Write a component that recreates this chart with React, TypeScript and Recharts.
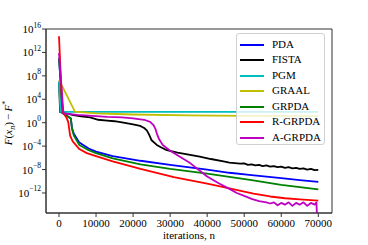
import React from 'react';
import { LineChart, Line, XAxis, YAxis, ReferenceArea, Label } from 'recharts';

// [iteration, log10(F(x_n) - F*)]
const pdaData: [number, number][] = [
  [0, 11], [1000, 1.6], [2500, 1.0], [3200, 0.7], [3500, -0.9], [4000, -1.9], [5500, -3.4],
  [8000, -4.4], [10000, -4.95], [14500, -5.7], [22000, -6.5], [30000, -7.2], [40000, -8.0],
  [46000, -8.55], [52000, -8.95], [60000, -9.45], [65000, -9.8], [70000, -10.1],
];
const fistaData: [number, number][] = [
  [0, 7.0], [300, 1.8], [1000, 1.7], [2500, 1.5], [3900, 1.3], [6000, 1.1], [8400, 0.9],
  [10600, 0.5], [13000, 0.35], [15000, 0.25], [17400, 0.0], [20000, -0.3], [21900, -0.55],
  [23000, -0.9], [23700, -1.3], [24300, -2.0], [25000, -3.0], [26400, -3.8], [27500, -4.2],
  [29100, -4.7], [32000, -5.1], [35400, -5.5], [38000, -5.8], [41000, -6.2], [44400, -6.6],
  [46000, -6.8], [48900, -7.0], [50000, -6.95], [51000, -7.2], [52000, -7.1], [53000, -7.3],
  [54000, -7.2], [55000, -7.4], [56000, -7.3], [57000, -7.5], [58000, -7.4], [59000, -7.6],
  [60000, -7.5], [61000, -7.7], [62000, -7.6], [63000, -7.8], [64000, -7.7], [65000, -7.9],
  [66000, -7.8], [67000, -8.0], [68000, -7.9], [69000, -8.1], [70000, -8.05],
];
const pgmData: [number, number][] = [[0, 7.0], [400, 1.85], [70000, 1.85]];
const graalData: [number, number][] = [
  [0, 7.3], [4300, 1.9], [10000, 1.6], [20000, 1.4], [35000, 1.25], [50000, 1.18], [70000, 1.12],
];
const grpdaData: [number, number][] = [
  [0, 11], [1000, 1.6], [2500, 1.0], [3200, 0.7], [3500, -1.0], [4000, -2.2], [5500, -3.8],
  [8000, -4.7], [10000, -5.2], [14500, -6.1], [22000, -7.1], [30000, -7.9], [40000, -8.7],
  [46000, -9.25], [52000, -9.8], [60000, -10.6], [65000, -11.0], [70000, -11.4],
];
const rgrpdaData: [number, number][] = [
  [0, 14.75], [600, 6], [1000, 1.8], [2000, 0.9], [2500, 0.1], [3000, -2.2], [3700, -3.2],
  [5500, -4.5], [7500, -5.2], [10000, -5.7], [14500, -6.6], [22000, -7.9], [31000, -9.3],
  [40000, -10.4], [46000, -11.2], [52500, -12.1], [57000, -12.6], [61000, -12.9],
  [65000, -13.1], [70000, -13.3],
];
const agrpdaData: [number, number][] = [
  [0, 11.9], [1200, 1.6], [5000, 1.35], [8000, 1.2], [13000, 1.0], [17000, 0.9], [20000, 0.75],
  [23000, 0.5], [24600, 0.15], [25500, -0.4], [26000, -1.0], [26500, -2.0], [27000, -2.8],
  [28000, -3.8], [30000, -4.8], [35400, -6.9], [40000, -9.2], [43000, -10.3], [46000, -11.3],
  [48000, -12.0], [50000, -12.5], [52000, -13.0], [54000, -13.4], [56000, -13.6],
  [57000, -13.8], [58000, -13.6], [59000, -14.1], [60000, -13.7], [61000, -14.0],
  [62000, -13.6], [63000, -14.2], [64000, -13.7], [65000, -14.0], [66000, -13.6],
  [67000, -14.2], [68000, -13.7], [69000, -14.0], [69500, -13.6], [69700, -17],
];

const seriesNames = ['PDA', 'FISTA', 'PGM', 'GRAAL', 'GRPDA', 'R-GRPDA', 'A-GRPDA'];
const seriesColors = ['#0000FF', '#000000', '#00BFBF', '#BFBF00', '#008000', '#FF0000', '#BF00BF'];
const seriesData = [pdaData, fistaData, pgmData, graalData, grpdaData, rgrpdaData, agrpdaData];

const xTicks = [0, 10000, 20000, 30000, 40000, 50000, 60000, 70000];
const yTickExps = [-12, -8, -4, 0, 4, 8, 12, 16];
const xDomain: [number, number] = [-3510, 73700];
const yDomainExp: [number, number] = [-15.42, 16];
const xLabelText = 'iterations, n';

const FONT = 'Liberation Serif';

const toPts = (arr: [number, number][]) => arr.map(([n, e]) => ({ n, v: Math.pow(10, e) }));

const YTick = (props: any) => {
  const { x, y, payload } = props;
  const e = Math.round(Math.log10(payload.value));
  const s = e < 0 ? '\u2212' + -e : String(e);
  return (
    <text x={x} y={y + 4} textAnchor="end" fontFamily={FONT} fontSize={11} fill="#000">
      <tspan>10</tspan>
      <tspan dy={-5.5} fontSize={7.5}>{s}</tspan>
    </text>
  );
};

const XTick = (props: any) => {
  const { x, y, payload } = props;
  return (
    <text x={x} y={y + 8} textAnchor="middle" fontFamily={FONT} fontSize={11} fill="#000">
      {String(payload.value)}
    </text>
  );
};

const XLabel = () => (
  <text x={189} y={238.5} textAnchor="middle" fontFamily={FONT} fontSize={11} fill="#000">
    {xLabelText}
  </text>
);

const YLabel = () => (
  <text
    x={0}
    y={0}
    transform="translate(12,123) rotate(-90)"
    textAnchor="middle"
    fontFamily={FONT}
    fontSize={11}
    fill="#000"
  >
    <tspan fontStyle="italic">F</tspan>
    <tspan>(</tspan>
    <tspan fontStyle="italic">x</tspan>
    <tspan fontStyle="italic" fontSize={8} dy={2.5}>n</tspan>
    <tspan dy={-2.5}>){'\u2009'}{'\u2212'}{'\u2009'}</tspan>
    <tspan fontStyle="italic">F</tspan>
    <tspan fontSize={8} dy={-4.5}>*</tspan>
  </text>
);

export default function App() {
  const yTicks = yTickExps.map((e) => Math.pow(10, e));
  const yDomain: [number, number] = [Math.pow(10, yDomainExp[0]), Math.pow(10, yDomainExp[1])];
  return (
    <div style={{ position: 'absolute', left: 0, top: 0, width: 368, height: 245, background: '#fff' }}>
      <LineChart width={368} height={245} margin={{ top: 29, right: 36, bottom: 12, left: 0 }}>
        <XAxis
          type="number"
          dataKey="n"
          domain={xDomain}
          ticks={xTicks}
          allowDataOverflow
          tickSize={4}
          tickMargin={2}
          height={20}
          stroke="#333"
          tick={<XTick />}
          interval={0}
        >
          <Label content={<XLabel />} />
        </XAxis>
        <YAxis
          type="number"
          scale="log"
          dataKey="v"
          domain={yDomain}
          ticks={yTicks}
          allowDataOverflow
          width={46}
          tickSize={4}
          tickMargin={1}
          stroke="#333"
          tick={<YTick />}
          interval={0}
        >
          <Label content={<YLabel />} />
        </YAxis>
        {seriesData.map((d, i) => (
          <Line
            key={seriesNames[i]}
            data={toPts(d)}
            dataKey="v"
            name={seriesNames[i]}
            stroke={seriesColors[i]}
            strokeWidth={1.8}
            dot={false}
            isAnimationActive={false}
            strokeLinejoin="round"
          />
        ))}
        <ReferenceArea
          x1={xDomain[0]}
          x2={xDomain[1]}
          y1={yDomain[0]}
          y2={yDomain[1]}
          fill="none"
          stroke="#333"
          strokeWidth={1}
          ifOverflow="visible"
        />
      </LineChart>
      <div
        style={{
          position: 'absolute',
          left: 236,
          top: 33,
          width: 89,
          height: 112,
          border: '1px solid #d0d0d0',
          borderRadius: 3,
          background: 'rgba(255,255,255,0.8)',
          boxSizing: 'border-box',
          fontFamily: FONT,
          fontSize: 11,
          color: '#000',
        }}
      >
        {seriesNames.map((name, i) => (
          <div
            key={name}
            style={{ position: 'absolute', left: 0, top: 3 + i * 15.45, height: 15, width: 88 }}
          >
            <div style={{ position: 'absolute', left: 3, top: 7, width: 24, height: 2, background: seriesColors[i] }} />
            <span style={{ position: 'absolute', left: 35, top: 0, lineHeight: '15px', whiteSpace: 'nowrap' }}>{name}</span>
          </div>
        ))}
      </div>
    </div>
  );
}
